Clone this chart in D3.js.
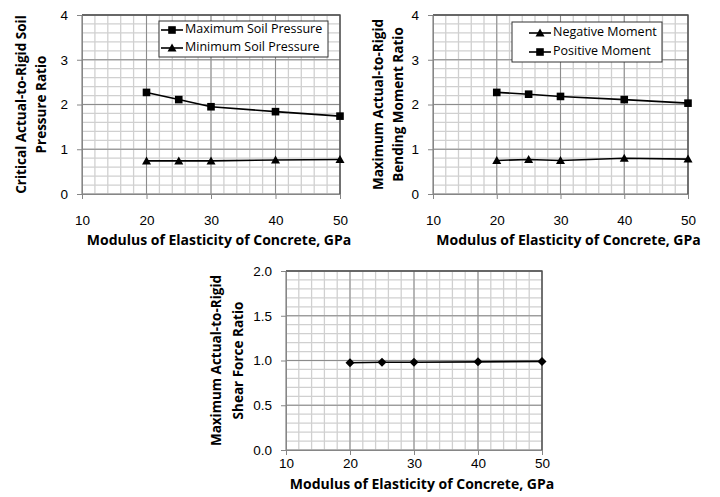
<!DOCTYPE html>
<meta charset="utf-8">
<style>
  body { margin: 0; background: #fff; }
  svg { display: block; font-family: "Open Sans", sans-serif; }
  .grid-minor line { stroke: #d0d0d0; stroke-width: 1.3; }
  .grid-major line { stroke: #8c8c8c; stroke-width: 1; }
  .axis path, .axis line { stroke: #868686; }
  .axis text { font-size: 13.5px; fill: #000; }
  .title { font-weight: bold; font-size: 13.5px; }
  .title.x-title { font-size: 14px; }
  .legend text { font-size: 12.5px; }
</style>
<body>
<script src="https://cdn.jsdelivr.net/npm/d3@7"></script>
<script>
// values
const modulus = [20, 25, 30, 40, 50];
const maxSoilPressure = [2.27, 2.11, 1.95, 1.84, 1.74];
const minSoilPressure = [0.74, 0.74, 0.74, 0.76, 0.77];
const negativeMoment = [0.75, 0.77, 0.75, 0.80, 0.78];
const positiveMoment = [2.27, 2.23, 2.18, 2.11, 2.03];
const shearForce = [0.975, 0.98, 0.98, 0.985, 0.99];

const xTicks = [10, 20, 30, 40, 50];
const ratioTicks = [0, 1, 2, 3, 4];
const shearTicks = [0, 0.5, 1.0, 1.5, 2.0];
const xTitle = 'Modulus of Elasticity of Concrete, GPa';

const svg = d3.select('body').append('svg')
  .attr('width', 720)
  .attr('height', 497);

function marker(g, shape, x, y) {
  if (shape === 'square') {
    g.append('rect').attr('x', x - 3.8).attr('y', y - 3.8)
      .attr('width', 7.6).attr('height', 7.6).attr('fill', '#000');
  } else if (shape === 'triangle') {
    g.append('path').attr('d', `M${x},${y - 4.5}L${x + 4.5},${y + 3.5}L${x - 4.5},${y + 3.5}Z`).attr('fill', '#000');
  } else {
    g.append('path').attr('d', `M${x},${y - 4.5}L${x + 4.5},${y}L${x},${y + 4.5}L${x - 4.5},${y}Z`).attr('fill', '#000');
  }
}

function drawChart(cfg) {
  const g = svg.append('g');
  const x = d3.scaleLinear().domain([10, 50]).range([cfg.left, cfg.right]);
  const y = d3.scaleLinear().domain(cfg.yDomain).range([cfg.bottom, cfg.top]);

  // minor grid
  const minorX = d3.range(10, 50.01, 2);
  const minorY = d3.range(cfg.yDomain[0], cfg.yDomain[1] + 1e-6, cfg.yMinor);
  const gm = g.append('g').attr('class', 'grid-minor');
  gm.selectAll('.v').data(minorX).enter().append('line')
    .attr('x1', d => x(d)).attr('x2', d => x(d))
    .attr('y1', cfg.top).attr('y2', cfg.bottom);
  gm.selectAll('.h').data(minorY).enter().append('line')
    .attr('y1', d => y(d)).attr('y2', d => y(d))
    .attr('x1', cfg.left).attr('x2', cfg.right);

  // major grid
  const gM = g.append('g').attr('class', 'grid-major');
  gM.selectAll('.v').data(xTicks).enter().append('line')
    .attr('x1', d => x(d)).attr('x2', d => x(d))
    .attr('y1', cfg.top).attr('y2', cfg.bottom);
  gM.selectAll('.h').data(cfg.yTicks).enter().append('line')
    .attr('y1', d => y(d)).attr('y2', d => y(d))
    .attr('x1', cfg.left).attr('x2', cfg.right);

  // plot border (top / right darker)
  g.append('path')
    .attr('d', `M${cfg.left},${cfg.top}H${cfg.right}V${cfg.bottom}`)
    .attr('fill', 'none').attr('stroke', '#4d4d4d').attr('stroke-width', 1.3);

  g.append('g').attr('class', 'axis')
    .attr('transform', `translate(0,${cfg.bottom})`)
    .call(d3.axisBottom(x).tickValues(xTicks).tickSize(5).tickPadding(cfg.xPad).tickSizeOuter(0));
  g.append('g').attr('class', 'axis')
    .attr('transform', `translate(${cfg.left},0)`)
    .call(d3.axisLeft(y).tickValues(cfg.yTicks).tickFormat(cfg.yFormat).tickSize(5).tickPadding(9).tickSizeOuter(0));

  // series
  const line = d3.line().x(d => x(d[0])).y(d => y(d[1]));
  cfg.series.forEach(s => {
    const pts = modulus.map((m, i) => [m, s.values[i]]);
    g.append('path').datum(pts).attr('d', line)
      .attr('fill', 'none').attr('stroke', '#000').attr('stroke-width', 1.6);
    pts.forEach(p => marker(g, s.shape, x(p[0]), y(p[1])));
  });

  // titles
  g.append('text').attr('class', 'title x-title')
    .attr('x', (cfg.left + cfg.right) / 2 + 8).attr('y', cfg.xTitleY)
    .attr('text-anchor', 'middle').attr('dominant-baseline', 'middle')
    .text(xTitle);
  const cy = (cfg.top + cfg.bottom) / 2;
  cfg.yTitle.forEach((t, i) => {
    const tx = cfg.yTitleX[i];
    g.append('text').attr('class', 'title')
      .attr('transform', `translate(${tx},${cy}) rotate(-90)`)
      .attr('text-anchor', 'middle').attr('dominant-baseline', 'middle')
      .text(t);
  });

  // legend
  if (cfg.legend) {
    const L = cfg.legend;
    const lg = g.append('g').attr('class', 'legend');
    lg.append('rect').attr('x', L.x).attr('y', L.y).attr('width', L.w).attr('height', L.h)
      .attr('fill', '#fff').attr('stroke', '#333').attr('stroke-width', 1);
    cfg.series.forEach((s, i) => {
      const ry = L.y + L.rowY[i];
      lg.append('line').attr('x1', L.x + L.pad).attr('x2', L.x + L.pad + 22)
        .attr('y1', ry).attr('y2', ry).attr('stroke', '#000').attr('stroke-width', 1.6);
      marker(lg, s.shape, L.x + L.pad + 11, ry);
      lg.append('text').attr('x', L.x + L.pad + 24).attr('y', ry)
        .attr('dominant-baseline', 'middle').text(s.name);
    });
  }
}

drawChart({
  left: 82, right: 340, top: 15, bottom: 194, xPad: 16,
  yDomain: [0, 4], yTicks: ratioTicks, yMinor: 0.2, yFormat: d3.format('d'),
  xTitleY: 241, yTitle: ['Critical Actual-to-Rigid Soil', 'Pressure Ratio'], yTitleX: [22, 42],
  series: [
    {name: 'Maximum Soil Pressure', values: maxSoilPressure, shape: 'square'},
    {name: 'Minimum Soil Pressure', values: minSoilPressure, shape: 'triangle'}
  ],
  legend: {x: 159, y: 21, w: 169, h: 36, pad: 2, rowY: [9, 27]}
});

drawChart({
  left: 433, right: 688, top: 15, bottom: 194, xPad: 16,
  yDomain: [0, 4], yTicks: ratioTicks, yMinor: 0.2, yFormat: d3.format('d'),
  xTitleY: 241, yTitle: ['Maximum Actual-to-Rigid', 'Bending Moment Ratio'], yTitleX: [379, 399],
  series: [
    {name: 'Negative Moment', values: negativeMoment, shape: 'triangle'},
    {name: 'Positive Moment', values: positiveMoment, shape: 'square'}
  ],
  legend: {x: 512, y: 22, w: 150, h: 40, pad: 17, rowY: [11, 30]}
});

drawChart({
  left: 286, right: 542, top: 271, bottom: 450, xPad: 3,
  yDomain: [0, 2], yTicks: shearTicks, yMinor: 0.1, yFormat: d3.format('.1f'),
  xTitleY: 485, yTitle: ['Maximum Actual-to-Rigid', 'Shear Force Ratio'], yTitleX: [217, 239],
  series: [
    {name: 'Shear Force', values: shearForce, shape: 'diamond'}
  ]
});
</script>
</body>
</html>
